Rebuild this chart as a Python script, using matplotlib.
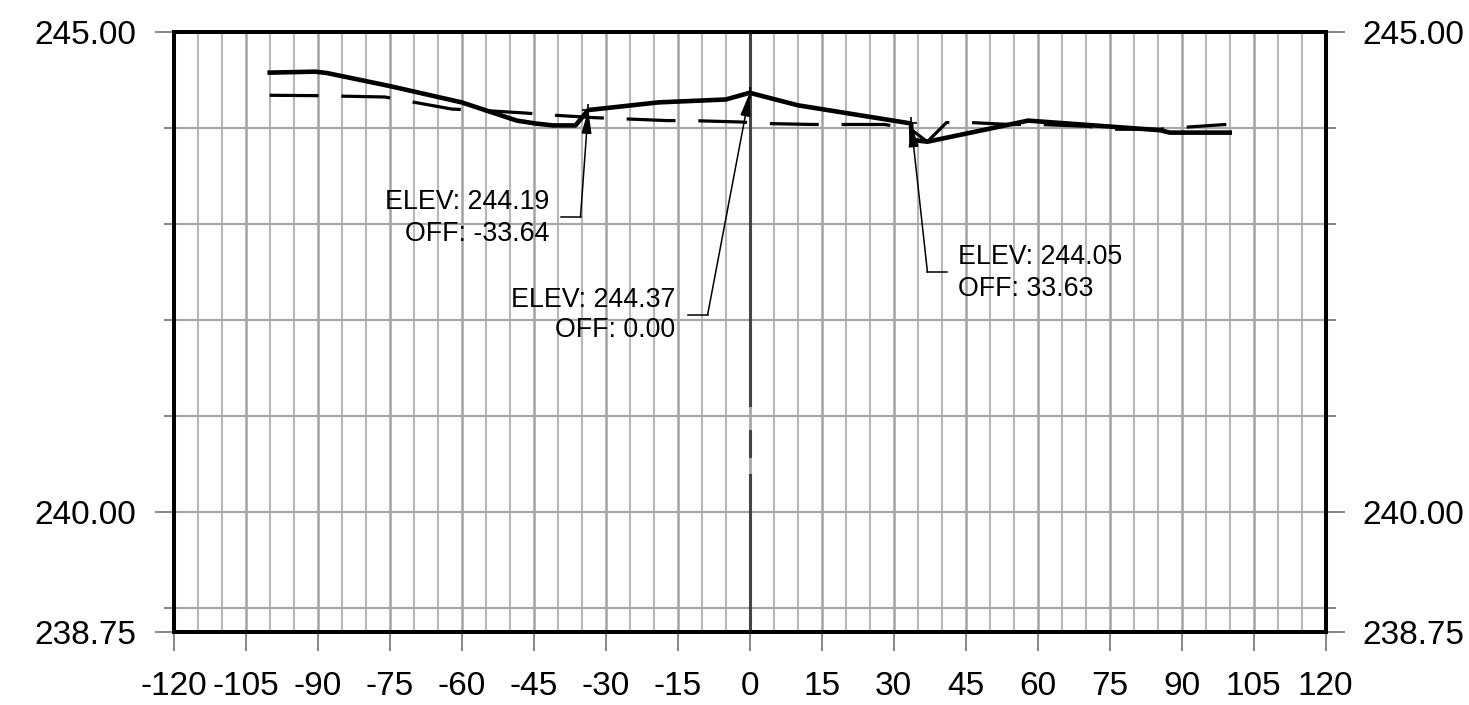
import matplotlib
matplotlib.use("Agg")
import matplotlib.pyplot as plt
from matplotlib.ticker import FixedLocator, FuncFormatter

plt.rcParams['font.family'] = ['Liberation Sans', 'DejaVu Sans']
plt.rcParams['lines.scale_dashes'] = False

# ---- data ----
ground_x = [-100, -90.5, -88, -75, -60, -48.5, -44.6, -41, -36.3, -33.64, -19, -5, 0, 10,
            33.63, 33.7, 37, 58, 85.5, 87.5, 100]
ground_y = [244.58, 244.59, 244.575, 244.44, 244.27, 244.08, 244.05, 244.03, 244.03, 244.19,
            244.27, 244.30, 244.37, 244.24, 244.05, 243.88, 243.86, 244.08, 243.98, 243.955, 243.955]

design_x = [-100, -90, -76, -72, -62, -57, -47, -42, -32, -27, -17, -12, -2, 3, 13, 18, 28,
            33.3, 37, 41, 46, 54, 60.5, 70.6, 75, 85.4, 90.3, 99.3]
design_y = [244.344, 244.34, 244.326, 244.29, 244.2, 244.19, 244.16, 244.14, 244.11, 244.10,
            244.08, 244.08, 244.066, 244.05, 244.04, 244.04, 244.04, 244.0, 243.86, 244.06,
            244.06, 244.04, 244.04, 244.02, 243.99, 243.99, 244.01, 244.04]

ann_off = [-33.64, 0.00, 33.63]
ann_elev = [244.19, 244.37, 244.05]

x_ticks = list(range(-120, 121, 15))
y_major = [238.75, 240.00, 245.00]
y_minor = [239, 240, 241, 242, 243, 244]
x_min, x_max = -120, 120
y_min, y_max = 238.75, 245.00

# ---- figure ----
fig = plt.figure(figsize=(14.69, 7.05), dpi=100)
ax = fig.add_axes([173.7 / 1469, 1 - 632.3 / 705, (1325.7 - 173.7) / 1469, 600 / 705])
ax.set_xlim(x_min, x_max)
ax.set_ylim(y_min, y_max)

# grid
for gx in range(-115, 120, 5):
    if gx == 0:
        continue
    major = gx % 15 == 0
    ax.axvline(gx, color='#a2a2a2' if major else '#b8b8b8', lw=1.8 if major else 1.5, zorder=1)
for gy in y_minor:
    ax.axhline(gy, color='#a8a8a8', lw=1.6, zorder=1)

# centre line (dark with light breaks)
ax.axvline(0, color='#a8a8a8', lw=2.0, zorder=1.5)
frac = lambda v: (v - y_min) / (y_max - y_min)
for a, b in [(241.115, 245.0), (240.59, 240.85), (238.75, 240.385)]:
    ax.axvline(0, ymin=frac(a), ymax=frac(b), color='#444444', lw=2.2, zorder=1.6)

# profiles
ax.plot(design_x, design_y, color='black', lw=2.3, linestyle=(0, (35.2, 16.4)),
        solid_capstyle='butt', dash_capstyle='butt', zorder=3)
ax.plot(ground_x, ground_y, color='black', lw=3.3, solid_joinstyle='round', zorder=4)

# annotations: text anchor, line centres, alignment, leader knee points
ann_layout = [
    dict(tx=-41.8, ey=243.23, oy=242.90, ha='right', leader=[(-39.3, 243.076), (-35.25, 243.076)]),
    dict(tx=-15.5, ey=242.21, oy=241.896, ha='right', leader=[(-12.9, 242.06), (-8.76, 242.06)]),
    dict(tx=43.3, ey=242.66, oy=242.33, ha='left', leader=[(41.2, 242.503), (37.03, 242.503)]),
]
for off, elev, lay in zip(ann_off, ann_elev, ann_layout):
    ax.text(lay['tx'], lay['ey'], f"ELEV: {elev:.2f}", ha=lay['ha'], va='center',
            fontsize=19.3, zorder=6)
    ax.text(lay['tx'], lay['oy'], f"OFF: {off:.2f}", ha=lay['ha'], va='center',
            fontsize=19.3, zorder=6)
    (x0, y0), (x1, y1) = lay['leader']
    ax.plot([x0, x1], [y0, y1], color='black', lw=1.1, zorder=5)
    ax.annotate('', xy=(off, elev), xytext=(x1, y1),
                arrowprops=dict(arrowstyle='-|>,head_length=0.7,head_width=0.15',
                                color='black', lw=1.1, mutation_scale=20,
                                shrinkA=0, shrinkB=0), zorder=5)
    ax.plot([off], [elev], marker='+', color='black', ms=8, mew=1.2, zorder=6)

# ticks
ax.xaxis.set_major_locator(FixedLocator(x_ticks))
ax.set_xticklabels([str(v) for v in x_ticks])
ax.yaxis.set_major_locator(FixedLocator(y_major))
ax.yaxis.set_minor_locator(FixedLocator(y_minor))
ax.yaxis.set_major_formatter(FuncFormatter(lambda v, p: f"{v:.2f}"))
ax.tick_params(axis='x', which='major', length=13.7, width=1.1, color='#666666',
               pad=14, labelsize=24, direction='out')
ax.tick_params(axis='y', which='major', length=13.7, width=1.1, color='#666666',
               pad=13, labelsize=24, direction='out', right=True, labelright=True)
ax.tick_params(axis='y', which='minor', length=7.2, width=1.1, color='#666666',
               direction='out', right=True)

for s in ax.spines.values():
    s.set_linewidth(2.9)
    s.set_color('black')
    s.set_zorder(7)

fig.savefig('out.png', dpi=100)
